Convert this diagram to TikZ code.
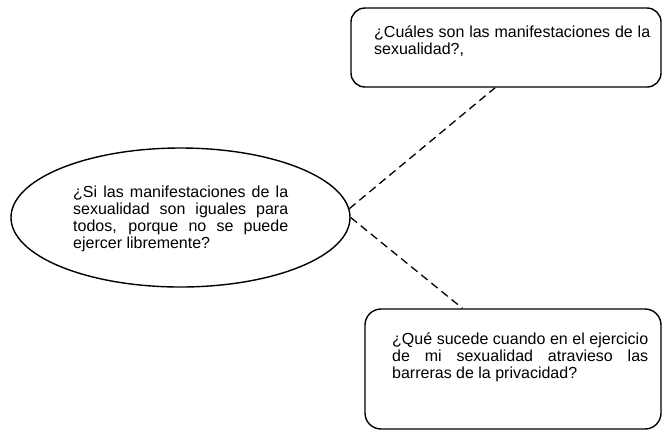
\documentclass[tikz,border=0pt]{standalone}
\usepackage{fontspec}
\setmainfont{Liberation Sans}
\usetikzlibrary{shapes.geometric,calc}
\tikzset{
  qbox/.style={draw, line width=1.4bp, inner sep=0pt},
  qell/.style={draw, ellipse, line width=1.4bp, inner sep=0pt},
  qtext/.style={inner sep=0pt, anchor=base west},
  dashlink/.style={line width=1.3bp, dash pattern=on 8bp off 5bp}
}
\newcommand{\qfont}{\fontsize{16bp}{17bp}\selectfont}
\begin{document}
\begin{tikzpicture}[x=1bp, y=-1bp]
\useasboundingbox (0,0) rectangle (662,432);
% top box
\node[qbox, rounded corners=14bp, minimum width=310bp, minimum height=79bp] (top) at (506,47.5) {};
\node[qtext] (toptext) at (374,37) {\parbox[t]{276bp}{\qfont ¿Cuáles son las manifestaciones de la\linebreak sexualidad?,}};
% ellipse
\node[qell, minimum width=339bp, minimum height=139bp] (e) at (180.5,217.5) {};
\node[qtext] (etext) at (73,197) {\parbox[t]{215bp}{\qfont ¿Si las manifestaciones de la\linebreak sexualidad son iguales para\linebreak todos, porque no se puede\linebreak ejercer libremente?}};
% bottom box
\node[qbox, rounded corners=16bp, minimum width=296bp, minimum height=120bp] (bot) at (513,369) {};
\node[qtext] (bottext) at (392,344) {\parbox[t]{256bp}{\qfont ¿Qué sucede cuando en el ejercicio\linebreak de mi sexualidad atravieso las\linebreak barreras de la privacidad?}};
% connectors
\draw[dashlink] (e.3) -- ($(top.south west)!0.465!(top.south east)$);
\draw[dashlink] (e.east) -- ($(bot.north west)!0.33!(bot.north east)$);
\end{tikzpicture}
\end{document}
